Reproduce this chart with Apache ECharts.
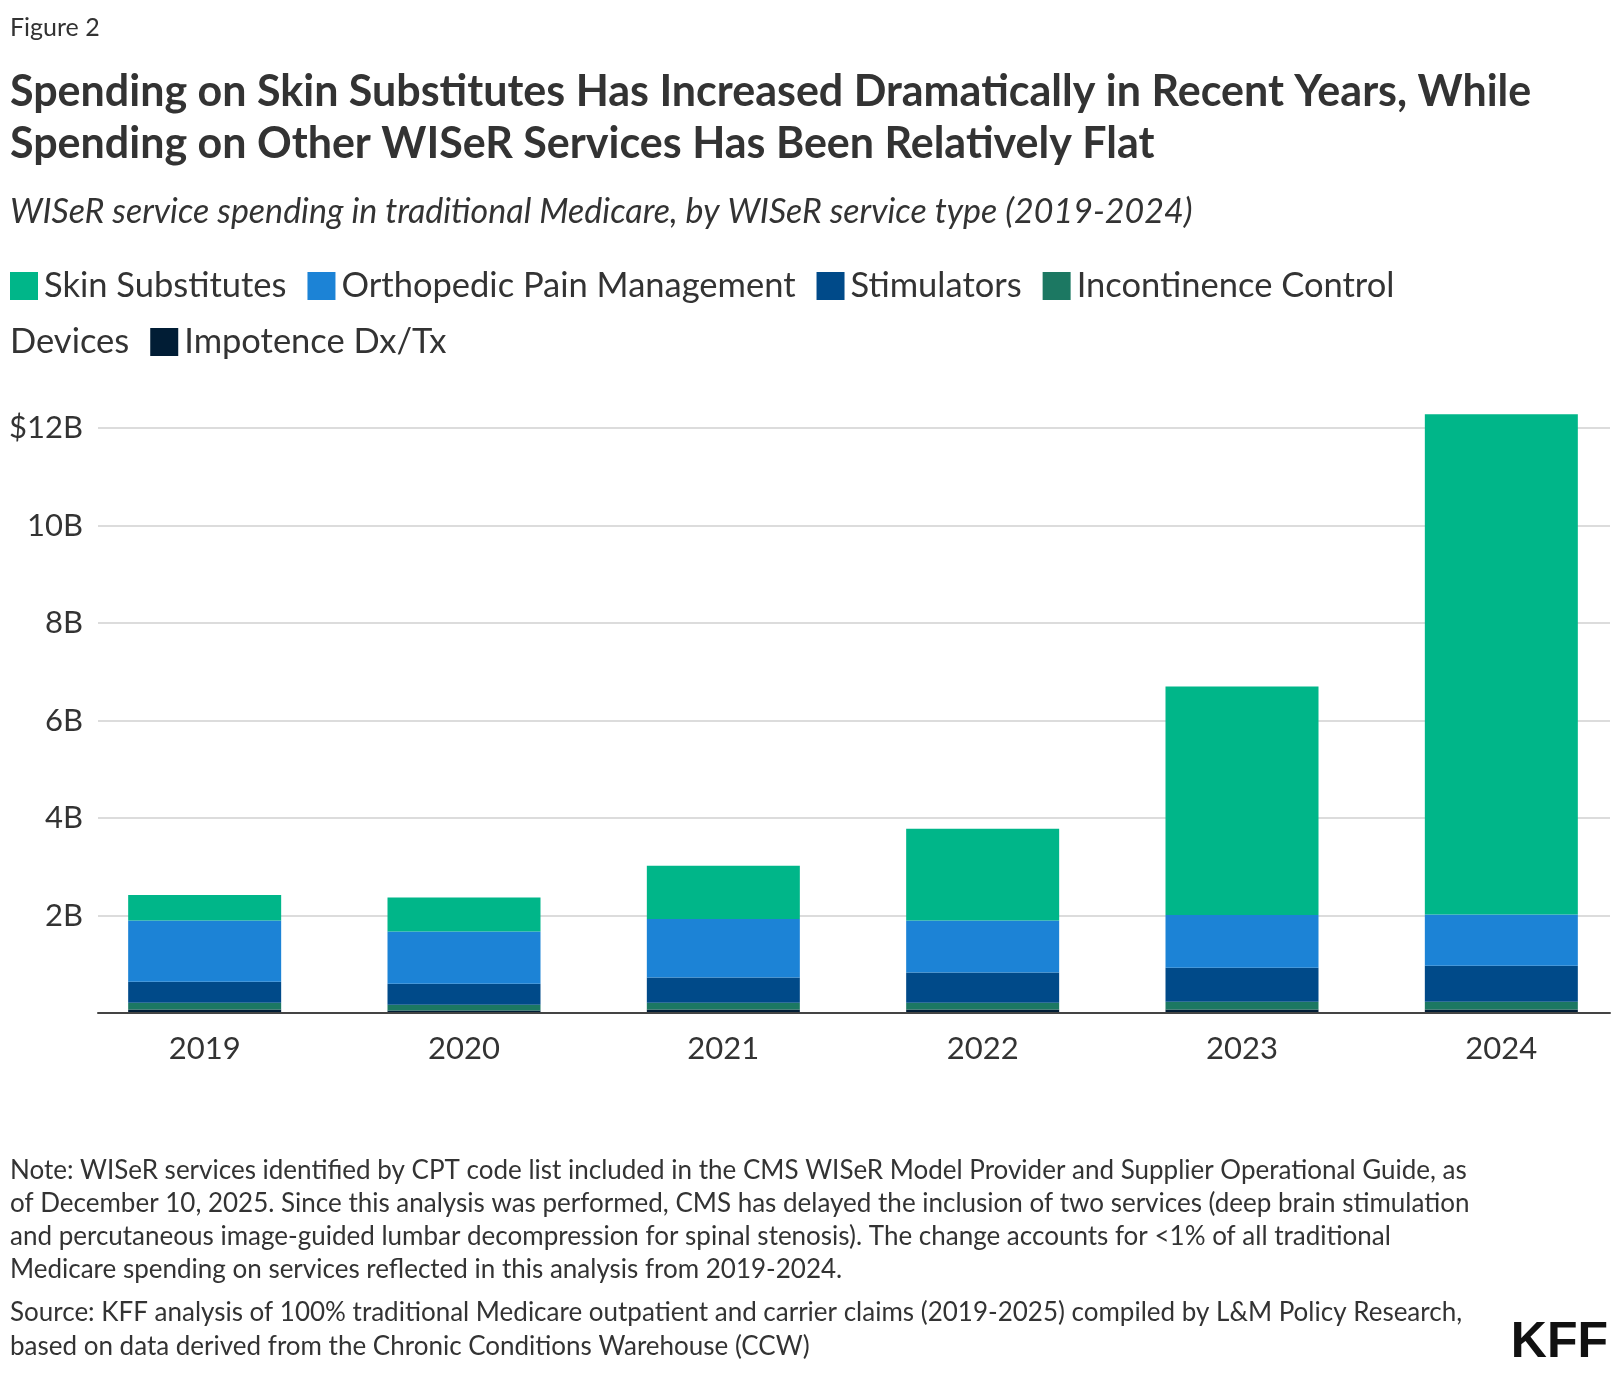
<!DOCTYPE html>
<html>
<head>
<meta charset="utf-8">
<script src="https://cdn.jsdelivr.net/npm/echarts@6/dist/echarts.min.js"></script>
<style>
  html, body { margin: 0; padding: 0; background: #fff; }
  #chart { width: 1620px; height: 1374px; }
</style>
</head>
<body>
<div id="chart"></div>
<script>
// ---- Data (values in billions of dollars) ----
const years = ['2019', '2020', '2021', '2022', '2023', '2024'];
const impotence    = [0.07, 0.05, 0.07, 0.07, 0.07, 0.07];
const incontinence = [0.14, 0.12, 0.14, 0.14, 0.16, 0.16];
const stimulators  = [0.43, 0.43, 0.52, 0.62, 0.70, 0.74];
const orthopedic   = [1.26, 1.07, 1.20, 1.07, 1.08, 1.05];
const skin         = [0.52, 0.70, 1.09, 1.88, 4.69, 10.26];
const yTicks = [0, 2, 4, 6, 8, 10, 12];

const seriesNames = ['Skin Substitutes', 'Orthopedic Pain Management', 'Stimulators', 'Incontinence Control Devices', 'Impotence Dx/Tx'];
const colors = {
  'Skin Substitutes': '#00b689',
  'Orthopedic Pain Management': '#1c83d6',
  'Stimulators': '#004a89',
  'Incontinence Control Devices': '#1c7862',
  'Impotence Dx/Tx': '#011d35'
};

const FONT = 'Lato, "Source Sans Pro", "Noto Sans", sans-serif';
const TXT = '#333333';

const chart = echarts.init(document.getElementById('chart'), null, { renderer: 'canvas' });

// Legend layout (flow, like HTML wrapping)
const legendFontSize = 34.5;
const ctx = document.createElement('canvas').getContext('2d');
ctx.font = legendFontSize + 'px Lato';
function tw(s) { return ctx.measureText(s).width; }
const legendItems = [
  { name: 'Skin Substitutes', lines: ['Skin Substitutes'] },
  { name: 'Orthopedic Pain Management', lines: ['Orthopedic Pain Management'] },
  { name: 'Stimulators', lines: ['Stimulators'] },
  { name: 'Incontinence Control Devices', lines: ['Incontinence Control', 'Devices'] },
  { name: 'Impotence Dx/Tx', lines: ['Impotence Dx/Tx'] }
];
const legendGraphics = [];
const rowY = [286, 342];
let lx = 10, row = 0;
const SQ = 28, GAP_SQ = 6, GAP_ITEM = 21;
legendItems.forEach(it => {
  legendGraphics.push({
    type: 'rect', shape: { x: lx, y: rowY[row] - SQ / 2, width: SQ, height: SQ },
    style: { fill: colors[it.name] }
  });
  lx += SQ + GAP_SQ;
  it.lines.forEach((ln, i) => {
    if (i > 0) { row += 1; lx = 10; }
    legendGraphics.push({
      type: 'text', x: lx, y: rowY[row],
      style: { text: ln, font: legendFontSize + 'px ' + FONT, fill: TXT, verticalAlign: 'middle', align: 'left' }
    });
    lx += tw(ln);
  });
  lx += GAP_ITEM;
});

const mkSeries = (name, data) => ({
  name, type: 'bar', stack: 'total', data,
  xAxisIndex: 0, yAxisIndex: 0,
  barWidth: 153, clip: false,
  itemStyle: { color: colors[name] },
  emphasis: { disabled: true }
});

const option = {
  backgroundColor: '#ffffff',
  animation: false,
  textStyle: { fontFamily: FONT },
  title: [
    { text: 'Figure 2', left: 10, top: 14, padding: 0,
      textStyle: { fontFamily: FONT, fontSize: 25, fontWeight: 'normal', color: TXT, lineHeight: 28 } },
    { text: 'Spending on Skin Substitutes Has Increased Dramatically in Recent Years, While\nSpending on Other WISeR Services Has Been Relatively Flat',
      left: 10, top: 66, padding: 0,
      textStyle: { fontFamily: FONT, fontSize: 43, fontWeight: 'bold', color: TXT, lineHeight: 52 } },
    { text: 'WISeR service spending in traditional Medicare, by WISeR service type (2019-2024)',
      left: 10, top: 194, padding: 0,
      textStyle: { fontFamily: FONT, fontSize: 34, fontStyle: 'italic', fontWeight: 'normal', color: TXT, lineHeight: 36 } },
    { text: 'Note: WISeR services identified by CPT code list included in the CMS WISeR Model Provider and Supplier Operational Guide, as\nof December 10, 2025. Since this analysis was performed, CMS has delayed the inclusion of two services (deep brain stimulation\nand percutaneous image-guided lumbar decompression for spinal stenosis). The change accounts for <1% of all traditional\nMedicare spending on services reflected in this analysis from 2019-2024.',
      left: 10, top: 1154, padding: 0,
      textStyle: { fontFamily: FONT, fontSize: 26, fontWeight: 'normal', color: TXT, lineHeight: 33 } },
    { text: 'Source: KFF analysis of 100% traditional Medicare outpatient and carrier claims (2019-2025) compiled by L&M Policy Research,\nbased on data derived from the Chronic Conditions Warehouse (CCW)',
      left: 10, top: 1296, padding: 0,
      textStyle: { fontFamily: FONT, fontSize: 26, fontWeight: 'normal', color: TXT, lineHeight: 34 } }
  ],
  legend: { show: false, data: seriesNames },
  graphic: legendGraphics.concat([
    { type: 'text', x: 1608, y: 1343,
      style: { text: 'KFF', font: '900 50px "Liberation Sans", Arial, sans-serif', fill: '#111', align: 'right', verticalAlign: 'middle' } }
  ]),
  grid: [
    { left: 75, width: 1556, top: 428, bottom: 361, containLabel: false, outerBoundsMode: 'none' },
    { left: 98, right: 10, top: 428, bottom: 361, containLabel: false, outerBoundsMode: 'none' }
  ],
  xAxis: [
    { type: 'category', gridIndex: 0, data: years,
      axisLine: { show: false }, axisTick: { show: false },
      axisLabel: { color: TXT, fontSize: 31, fontFamily: FONT, margin: 20 } },
    { type: 'category', gridIndex: 1, data: years, z: 5,
      axisLine: { show: true, lineStyle: { color: '#444', width: 2 } },
      axisTick: { show: false }, axisLabel: { show: false } }
  ],
  yAxis: [
    { type: 'value', gridIndex: 0, min: 0, max: 12, interval: 2,
      axisLine: { show: false }, axisTick: { show: false },
      axisLabel: { show: false }, splitLine: { show: false } },
    { type: 'value', gridIndex: 1, min: 0, max: 12, interval: 2,
      axisLine: { show: false }, axisTick: { show: false },
      splitLine: { show: true, lineStyle: { color: '#d0d0d0', width: 1.5 } },
      axisLabel: {
        color: TXT, fontSize: 31, fontFamily: FONT, margin: 15,
        formatter: v => v === 0 ? '' : (v === yTicks[yTicks.length - 1] ? '$' + v + 'B' : v + 'B')
      } }
  ],
  series: [
    mkSeries('Impotence Dx/Tx', impotence),
    mkSeries('Incontinence Control Devices', incontinence),
    mkSeries('Stimulators', stimulators),
    mkSeries('Orthopedic Pain Management', orthopedic),
    mkSeries('Skin Substitutes', skin)
  ]
};
chart.setOption(option);
</script>
</body>
</html>
